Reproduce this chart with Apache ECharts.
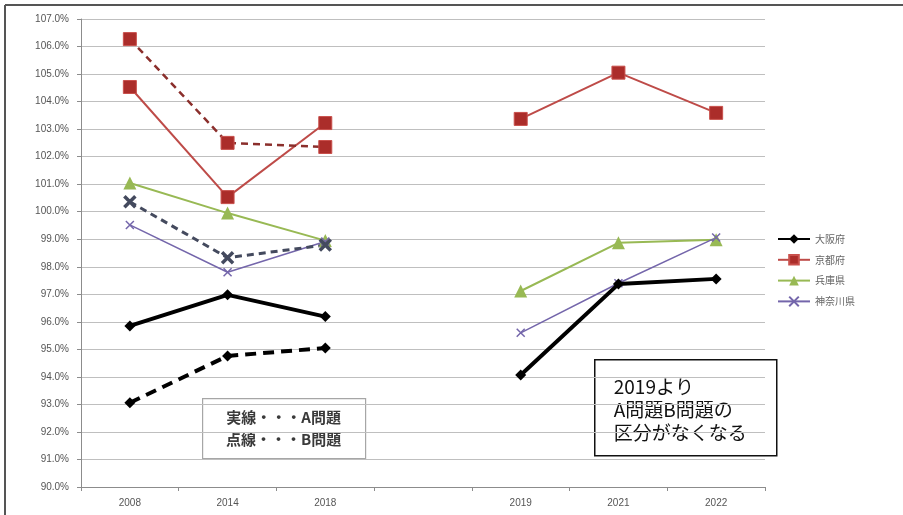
<!DOCTYPE html>
<html>
<head>
<meta charset="utf-8">
<script src="https://cdn.jsdelivr.net/npm/echarts@6/dist/echarts.min.js"></script>
<style>
  html, body { margin: 0; padding: 0; background: #fff; }
  #chart { width: 903px; height: 515px; }
</style>
</head>
<body>
<div id="chart"></div>
<script>
const categories = ['2008', '2014', '2018', '', '2019', '2021', '2022'];

// 実線 (A問題, and combined from 2019)
const osakaA = [95.85, 96.98, 96.19, '-', 94.07, 97.37, 97.56];
const kyotoA = [104.53, 100.53, 103.22, '-', 103.37, 105.05, 103.59];
const hyogoA = [101.04, 99.95, 98.95, '-', 97.12, 98.87, 98.98];
const kanagawaA = [99.52, 97.8, 98.92, '-', 95.6, 97.4, 99.06];

// 点線 (B問題, up to 2018)
const osakaB = [93.06, 94.76, 95.05];
const kyotoB = [106.27, 102.5, 102.35];
const grayB = [100.36, 98.33, 98.79];

const legendNames = ['大阪府', '京都府', '兵庫県', '神奈川県'];
const noteLeft = ['実線・・・A問題', '点線・・・B問題'];
const noteRight = ['2019より', 'A問題B問題の', '区分がなくなる'];

const FONT = '"Noto Sans CJK JP", "Noto Sans", sans-serif';
const X_MARK = 'path://M0,0L10,10M10,0L0,10';

const chart = echarts.init(document.getElementById('chart'));

const option = {
  animation: false,
  backgroundColor: '#fff',
  grid: { left: 81, right: 138, top: 19, bottom: 28 },
  legend: {
    data: legendNames,
    orient: 'vertical',
    left: 772,
    top: 229,
    itemGap: 10,
    itemWidth: 32,
    itemHeight: 12,
    textStyle: { fontSize: 10, color: '#666', fontFamily: FONT }
  },
  xAxis: {
    type: 'category',
    data: categories,
    boundaryGap: true,
    axisLine: { lineStyle: { color: '#8c8c8c', width: 1 } },
    axisTick: { show: true, length: 4, lineStyle: { color: '#8c8c8c' } },
    axisLabel: { fontSize: 10, color: '#555', margin: 11, fontFamily: 'Liberation Sans, sans-serif' },
    splitLine: { show: false }
  },
  yAxis: {
    type: 'value',
    min: 90,
    max: 107,
    interval: 1,
    axisLine: { show: true, lineStyle: { color: '#8c8c8c', width: 1 } },
    axisTick: { show: true, length: 4, lineStyle: { color: '#8c8c8c' } },
    axisLabel: {
      fontSize: 10,
      color: '#555',
      margin: 12,
      fontFamily: 'Liberation Sans, sans-serif',
      formatter: (v) => v.toFixed(1) + '%'
    },
    splitLine: { lineStyle: { color: '#bfbfbf', width: 1.2 } }
  },
  graphic: [
    { type: 'line', shape: { x1: 5, y1: 5, x2: 903, y2: 5 }, style: { stroke: '#555', lineWidth: 2 } },
    { type: 'line', shape: { x1: 5, y1: 5, x2: 5, y2: 515 }, style: { stroke: '#555', lineWidth: 2 } },
    {
      type: 'group',
      left: 202,
      top: 398,
      z: 100,
      children: [
        { type: 'rect', shape: { x: 0, y: 0, width: 163, height: 60 }, style: { fill: '#fff', stroke: '#a6a6a6', lineWidth: 1.2 } },
        {
          type: 'text', x: 81, y: 30,
          style: {
            text: noteLeft.join('\n'), fontSize: 15, lineHeight: 22, fontWeight: 'bold',
            fill: '#3a3a3a', fontFamily: FONT, align: 'center', verticalAlign: 'middle'
          }
        }
      ]
    },
    {
      type: 'group',
      left: 594,
      top: 359,
      z: 100,
      children: [
        { type: 'rect', shape: { x: 0, y: 0, width: 182, height: 96 }, style: { fill: '#fff', stroke: '#111', lineWidth: 1.5 } },
        {
          type: 'text', x: 19, y: 50,
          style: {
            text: noteRight.join('\n'), fontSize: 19, lineHeight: 23,
            fill: '#111', fontFamily: FONT, align: 'left', verticalAlign: 'middle'
          }
        }
      ]
    }
  ],
  series: [
    {
      name: '大阪府', type: 'line', data: osakaA, connectNulls: false,
      symbol: 'diamond', symbolSize: 11,
      lineStyle: { color: '#000', width: 4 },
      itemStyle: { color: '#000' }, z: 5
    },
    {
      name: '京都府', type: 'line', data: kyotoA, connectNulls: false,
      symbol: 'rect', symbolSize: 13,
      lineStyle: { color: '#be4b48', width: 2 },
      itemStyle: { color: '#ab2d2a', borderColor: '#c9504c', borderWidth: 1 }
    },
    {
      name: '兵庫県', type: 'line', data: hyogoA, connectNulls: false,
      symbol: 'triangle', symbolSize: 13,
      lineStyle: { color: '#98b954', width: 2 },
      itemStyle: { color: '#98b954' }
    },
    {
      name: '神奈川県', type: 'line', data: kanagawaA, connectNulls: false,
      symbol: X_MARK, symbolSize: 8,
      lineStyle: { color: '#7466ab', width: 1.5 },
      itemStyle: { color: 'transparent', borderColor: '#7466ab', borderWidth: 1.5 }
    },
    {
      name: '大阪府B', type: 'line', data: osakaB,
      symbol: 'diamond', symbolSize: 11,
      lineStyle: { color: '#000', width: 4, type: [11, 7] },
      itemStyle: { color: '#000' }, z: 5
    },
    {
      name: '京都府B', type: 'line', data: kyotoB,
      symbol: 'rect', symbolSize: 13,
      lineStyle: { color: '#8b2f2c', width: 2.5, type: [7, 5] },
      itemStyle: { color: '#ab2d2a', borderColor: '#c9504c', borderWidth: 1 }
    },
    {
      name: '兵庫・神奈川B', type: 'line', data: grayB,
      symbol: X_MARK, symbolSize: 11,
      lineStyle: { color: '#444a5e', width: 3, type: [7, 5] },
      itemStyle: { color: 'transparent', borderColor: '#444a5e', borderWidth: 3.5 }
    }
  ]
};

chart.setOption(option);
</script>
</body>
</html>
